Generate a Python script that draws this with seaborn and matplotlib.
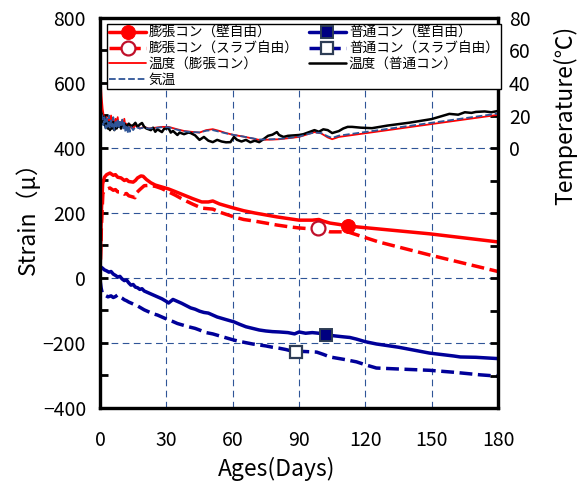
import matplotlib
matplotlib.use("Agg")
import matplotlib.pyplot as plt
import seaborn as sns
from matplotlib.ticker import MultipleLocator, FixedLocator

sns.set_theme(style="white", rc={"text.color": "black", "axes.labelcolor": "black",
                                 "xtick.color": "black", "ytick.color": "black"})
plt.rcParams['font.family'] = ['Noto Sans CJK JP', 'DejaVu Sans']
plt.rcParams['axes.unicode_minus'] = True

# ---------------- data ----------------
# 膨張コン（壁自由） strain
exp_wall_day = [0, 0.6, 1.2, 2, 3, 4.5, 6, 7, 8, 9.5, 11, 12, 13, 15, 16, 17, 18.5, 19.5, 21, 23, 25,
                28, 31, 34, 38, 42, 46, 49, 51, 54, 57, 60.6, 65, 70, 75, 80, 85, 90, 96, 99, 101,
                104, 108, 112, 149, 180]
exp_wall_val = [5, 200, 290, 310, 318, 323, 316, 318, 310, 308, 300, 303, 297, 295, 300, 308, 314, 313,
                303, 293, 286, 280, 274, 266, 255, 244, 234, 234, 237, 228, 222, 215, 207, 200, 194,
                188, 183, 178, 178, 180, 175, 169, 165, 160, 136, 111]
exp_wall_mark = 112

# 膨張コン（スラブ自由） strain
exp_slab_day = [0, 0.6, 1.3, 2.5, 4.5, 6, 7, 8, 9.5, 11, 12, 13, 15, 15.8, 16.5, 18, 20, 22, 25, 28,
                31, 34, 38, 42, 46, 51, 54, 57, 60.6, 65, 70, 75, 80, 85, 90, 94, 98.6, 101, 104,
                112, 126, 149, 180]
exp_slab_val = [0, 150, 261, 272, 277, 270, 272, 265, 265, 258, 260, 253, 249, 247, 262, 272, 284, 285,
                282, 275, 265, 255, 240, 227, 215, 212, 203, 196, 188, 180, 175, 169, 163, 158, 154,
                152, 154, 149, 142, 142, 111, 71, 20]
exp_slab_mark = 98.6

# 普通コン（壁自由） strain
nor_wall_day = [0, 1, 2, 3, 4, 5, 6, 7, 8, 9, 10, 11, 12, 13, 14, 15, 16, 17, 18, 19, 20, 22, 24, 26,
                28, 30, 31, 33, 35, 37, 39, 41, 43, 45, 47, 49, 51, 53, 55, 57, 60.6, 63, 66,
                69, 72, 75, 78, 81, 85, 88, 90, 93, 96, 99, 102, 106, 110, 113, 116, 120, 125, 135,
                149, 160, 163, 170, 175, 180]
nor_wall_val = [35, 31, 25, 22, 18, 20, 12, 8, 3, 5, -3, -8, -6, -15, -22, -20, -28, -30, -35, -33, -40,
                -46, -52, -58, -64, -72, -77, -66, -72, -78, -85, -92, -96, -102, -106,
                -108, -114, -120, -124, -128, -135, -142, -150, -155, -160, -163, -165, -166, -168,
                -172, -166, -170, -168, -170, -175, -178, -181, -183, -188, -196, -203, -213, -231,
                -240, -243, -244, -246, -248]
nor_wall_mark = 102

# 普通コン（スラブ自由） strain
nor_slab_day = [0, 0.5, 1, 2, 3.6, 5, 6, 7, 8, 9, 10, 11, 12, 13, 14, 15, 16, 17, 18, 20, 22, 24, 26,
                28, 31, 33, 35, 37, 40, 43, 45, 48, 51, 54, 57, 60.6, 63, 66, 69, 72, 75, 78, 81, 84,
                88.6, 92, 95, 98, 101, 104, 110, 116, 120, 125, 135, 149, 160, 172, 180]
nor_slab_val = [-5, -30, -46, -52, -58, -55, -60, -57, -52, -58, -62, -67, -70, -74, -77, -80, -84, -86,
                -90, -98, -104, -110, -114, -120, -129, -134, -140, -144, -150, -155, -160, -168,
                -172, -178, -184, -191, -195, -199, -203, -206, -209, -213, -216, -220, -228, -226,
                -227, -228, -235, -243, -250, -258, -267, -277, -280, -284, -290, -298, -302]
nor_slab_mark = 88.6

# 温度（膨張コン） °C
temp_exp_day = [0, 0.3, 0.7, 1.2, 2, 2.5, 3, 3.5, 4, 4.5, 5, 5.5, 6, 6.5, 7, 7.5, 8, 8.5, 9, 9.5, 10,
                10.5, 11, 11.5, 12, 13, 14, 15, 16, 18, 20, 22, 25, 28, 31, 35, 38, 41, 45, 48, 51,
                54, 57, 60.6, 65, 72, 78, 81, 85, 90, 94, 97, 100, 103, 105, 108, 180]
temp_exp_val = [55, 42, 32, 24, 17, 14, 19, 13, 18, 15, 20, 14, 17, 12, 18, 15, 19, 13, 16, 12, 17, 14,
                18, 13, 15, 11, 14, 12, 14, 12, 13, 12, 12.5, 13, 13, 11.5, 10.5, 10, 9.5, 11, 11.6,
                10.5, 9.2, 8, 7, 5, 5.2, 5.4, 6, 6.8, 8.5, 9.8, 9, 6.5, 5.4, 6.8, 20.4]

# 温度（普通コン） °C
temp_nor_day = [0, 0.5, 1, 1.5, 2, 2.5, 3, 3.5, 4, 4.5, 5, 5.5, 6, 6.5, 7, 7.5, 8, 8.5, 9, 9.5, 10, 11,
                12, 13, 14, 15, 16, 17, 18, 19, 20, 21, 23, 24, 25, 26, 28, 29, 31, 32, 33, 35, 36,
                38, 40, 41, 43, 45, 47, 49, 51, 53, 55, 57, 59, 60.6, 62, 64, 66, 68, 70, 72, 74, 76,
                78, 80, 81, 83, 85, 88, 90, 92, 94, 97, 99, 101, 103, 105, 108, 110, 112, 114, 118,
                123, 130, 140, 150, 158, 162, 165, 168, 170, 174, 177, 180]
temp_nor_val = [25, 22, 20, 15, 19, 13, 17, 12, 16, 11, 15, 12, 16, 11, 14, 12, 15, 13, 15.5, 12, 14,
                15, 13, 15, 13.5, 14, 15.5, 13, 14.5, 15.4, 13, 12, 11, 12.5, 10, 11.5, 9.8, 11.8,
                12.2, 9.5, 10.5, 8, 9.5, 8.5, 9.5, 9.2, 7.8, 5, 6.8, 4.5, 3.6, 5, 4, 3.5, 3.6, 6.8,
                5, 4, 5, 3.5, 4.5, 3.6, 5.5, 7.5, 8.2, 9.8, 8, 6.8, 7.5, 7.8, 8, 8.5, 9.5, 11, 10,
                11.5, 11, 9.2, 10.4, 12, 13, 13, 12.5, 12.2, 13.8, 15.6, 17.8, 21, 20.5, 22, 21.6,
                22.2, 22.5, 22, 22.8]

# 気温 °C
air_day = [0.5, 1, 1.5, 2, 2.5, 3, 3.5, 4, 4.5, 5, 5.5, 6, 6.5, 7, 7.5, 8, 8.5, 9, 9.5, 10, 10.5, 11,
           11.5, 12, 12.5, 13, 13.5, 14, 15, 16, 18, 20, 22, 25, 28, 31, 35, 38, 41, 45, 48, 51, 54,
           57, 60.6, 65, 72, 78, 81, 85, 90, 94, 97, 100, 103, 105, 108, 180]
air_val = [21, 20, 14, 19, 12, 18, 13, 20, 12, 17, 13, 19, 11, 16, 13, 18, 12, 17, 14, 18, 12, 16, 10,
           13, 9, 14, 10, 13, 11, 13, 12, 12.6, 12, 12.3, 12.8, 12.8, 11.2, 10.3, 9.8, 9.6, 10.6,
           11, 10, 9, 8, 7, 5.2, 5.4, 5.6, 6.1, 7, 8.6, 9.5, 9.2, 7.2, 6.2, 7.6, 21.2]

labels = ["膨張コン（壁自由）", "膨張コン（スラブ自由）", "普通コン（壁自由）", "普通コン（スラブ自由）",
          "温度（膨張コン）", "温度（普通コン）", "気温"]

# ---------------- figure ----------------
fig = plt.figure(figsize=(5.82, 4.84), dpi=100)
ax = fig.add_axes([100 / 582, 1 - 408 / 484, 398 / 582, 390 / 484])
ax2 = ax.twinx()

RED = "#FF0000"
NAVY = "#000099"
AIR = "#2F5597"

def draw(axis, days, vals, **kw):
    sns.lineplot(x=days, y=vals, ax=axis, sort=False, estimator=None, legend=False, **kw)
    return axis.lines[-1]

h_ew = draw(ax, exp_wall_day, exp_wall_val, color=RED, lw=2.5, marker='o',
            markevery=[exp_wall_day.index(exp_wall_mark)], ms=10, mfc=RED, mec=RED,
            label=labels[0])
h_es = draw(ax, exp_slab_day, exp_slab_val, color=RED, lw=2.5, ls='--', marker='o',
            markevery=[exp_slab_day.index(exp_slab_mark)], ms=10, mfc='white', mec="#C0102A",
            mew=1.6, label=labels[1])
h_nw = draw(ax, nor_wall_day, nor_wall_val, color=NAVY, lw=2.5, marker='s',
            markevery=[nor_wall_day.index(nor_wall_mark)], ms=9, mfc="#000080", mec="#2E3D55",
            mew=1.4, label=labels[2])
h_ns = draw(ax, nor_slab_day, nor_slab_val, color=NAVY, lw=2.5, ls='--', marker='s',
            markevery=[nor_slab_day.index(nor_slab_mark)], ms=9, mfc='white', mec="#2E3D55",
            mew=1.6, label=labels[3])

h_te = draw(ax2, temp_exp_day, temp_exp_val, color=RED, lw=1.3, label=labels[4])
h_tn = draw(ax2, temp_nor_day, temp_nor_val, color='black', lw=1.8, label=labels[5])
h_air = draw(ax2, air_day, air_val, color=AIR, lw=1.3, ls='--', label=labels[6])

# axes
ax.set_xlim(0, 180)
ax.set_ylim(-400, 800)
ax.xaxis.set_major_locator(MultipleLocator(30))
ax.xaxis.set_minor_locator(MultipleLocator(10))
ax.yaxis.set_major_locator(MultipleLocator(200))
ax.yaxis.set_minor_locator(MultipleLocator(100))
ax.grid(True, which='major', color=AIR, lw=0.8, ls=(0, (6, 4)))
ax.set_axisbelow(True)
ax.tick_params(axis='both', which='both', direction='in', length=6, width=2,
               top=False, right=False, labelsize=14)
ax.tick_params(axis='x', pad=16)
ax.tick_params(axis='y', pad=10)

ax2.set_ylim(-160, 80)
ax2.yaxis.set_major_locator(FixedLocator(list(range(-160, 81, 20))))
ax2.set_yticklabels([str(v) if v >= 0 else "" for v in range(-160, 81, 20)])
ax2.tick_params(axis='y', direction='in', length=6, width=2, labelsize=14, pad=8)
ax2.grid(False)

for a in (ax, ax2):
    for s in a.spines.values():
        s.set_color('black')
        s.set_linewidth(2.3)

ax.set_xlabel("Ages(Days)", fontsize=16.5)
ax.xaxis.set_label_coords(0.445, -0.125)
ax.set_ylabel("Strain（μ）", fontsize=16.5)
ax.yaxis.set_label_coords(-0.15, 0.5)
ax2.set_ylabel("Temperature(℃)", fontsize=16.5)
ax2.yaxis.set_label_coords(1.138, 0.75)

handles = [h_ew, h_es, h_te, h_air, h_nw, h_ns, h_tn]
leg = ax2.legend(handles, [h.get_label() for h in handles], loc='upper left',
                 bbox_to_anchor=(0.018, 0.985), ncol=2,
                 prop={'family': ['Noto Sans CJK JP', 'DejaVu Sans'], 'size': 9.8},
                 frameon=True, fancybox=False, edgecolor='black', framealpha=1,
                 handlelength=2.7, labelspacing=0.12, borderpad=0.15, borderaxespad=0,
                 columnspacing=0.75, handletextpad=0.22, numpoints=1)
leg.get_frame().set_linewidth(1.0)
leg.set_zorder(10)

fig.savefig("out.png", dpi=100)
